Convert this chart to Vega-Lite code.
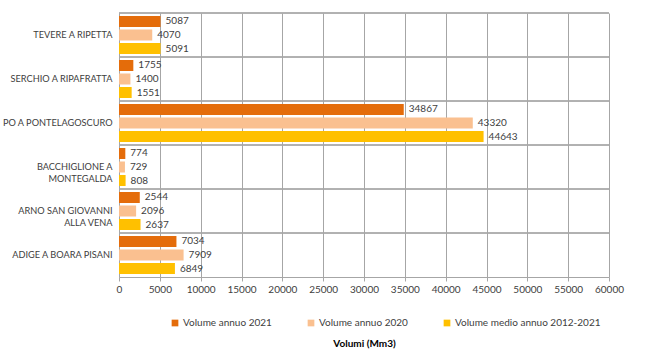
{
  "$schema": "https://vega.github.io/schema/vega-lite/v6.json",
  "width": 490,
  "height": 264,
  "autosize": {"type": "none"},
  "padding": {"left": 119, "top": 13, "right": 41, "bottom": 86},
  "background": "white",
  "config": {
    "font": "Lato",
    "view": {"stroke": null},
    "axis": {"labelColor": "#404040", "labelFontSize": 10, "titleColor": "#000000"}
  },
  "data": {
    "values": [
      {"stazione": "TEVERE A RIPETTA", "serie": "Volume annuo 2021", "volume": 5087},
      {"stazione": "TEVERE A RIPETTA", "serie": "Volume annuo 2020", "volume": 4070},
      {"stazione": "TEVERE A RIPETTA", "serie": "Volume medio annuo 2012-2021", "volume": 5091},
      {"stazione": "SERCHIO A RIPAFRATTA", "serie": "Volume annuo 2021", "volume": 1755},
      {"stazione": "SERCHIO A RIPAFRATTA", "serie": "Volume annuo 2020", "volume": 1400},
      {"stazione": "SERCHIO A RIPAFRATTA", "serie": "Volume medio annuo 2012-2021", "volume": 1551},
      {"stazione": "PO A PONTELAGOSCURO", "serie": "Volume annuo 2021", "volume": 34867},
      {"stazione": "PO A PONTELAGOSCURO", "serie": "Volume annuo 2020", "volume": 43320},
      {"stazione": "PO A PONTELAGOSCURO", "serie": "Volume medio annuo 2012-2021", "volume": 44643},
      {"stazione": "BACCHIGLIONE A|MONTEGALDA", "serie": "Volume annuo 2021", "volume": 774},
      {"stazione": "BACCHIGLIONE A|MONTEGALDA", "serie": "Volume annuo 2020", "volume": 729},
      {"stazione": "BACCHIGLIONE A|MONTEGALDA", "serie": "Volume medio annuo 2012-2021", "volume": 808},
      {"stazione": "ARNO SAN GIOVANNI|ALLA VENA", "serie": "Volume annuo 2021", "volume": 2544},
      {"stazione": "ARNO SAN GIOVANNI|ALLA VENA", "serie": "Volume annuo 2020", "volume": 2096},
      {"stazione": "ARNO SAN GIOVANNI|ALLA VENA", "serie": "Volume medio annuo 2012-2021", "volume": 2637},
      {"stazione": "ADIGE A BOARA PISANI", "serie": "Volume annuo 2021", "volume": 7034},
      {"stazione": "ADIGE A BOARA PISANI", "serie": "Volume annuo 2020", "volume": 7909},
      {"stazione": "ADIGE A BOARA PISANI", "serie": "Volume medio annuo 2012-2021", "volume": 6849}
    ]
  },
  "encoding": {
    "y": {
      "field": "stazione",
      "type": "nominal",
      "sort": null,
      "scale": {"paddingInner": 0, "paddingOuter": 0},
      "axis": {
        "title": null,
        "labelExpr": "split(datum.label, '|')",
        "labelPadding": 7,
        "ticks": false,
        "domainColor": "#A6A6A6",
        "labelFontSize": 9.2,
        "labelLineHeight": 12,
        "labelLimit": 200
      }
    }
  },
  "layer": [
    {
      "mark": {"type": "rule", "color": "#A6A6A6", "strokeWidth": 1},
      "encoding": {
        "y": {"field": "stazione", "type": "nominal", "sort": null, "bandPosition": 0}
      }
    },
    {
      "mark": {"type": "bar"},
      "encoding": {
        "x": {
          "field": "volume",
          "type": "quantitative",
          "scale": {"domain": [0, 60000], "nice": false},
          "axis": {
            "values": [0, 5000, 10000, 15000, 20000, 25000, 30000, 35000, 40000, 45000, 50000, 55000, 60000],
            "format": "d",
            "labelOverlap": false,
            "labelFlush": false,
            "title": "Volumi (Mm3)",
            "titleFontSize": 10,
            "titleFontWeight": "bold",
            "titlePadding": 44,
            "gridColor": "#A6A6A6",
            "domainColor": "#A6A6A6",
            "tickColor": "#A6A6A6",
            "tickSize": 4,
            "labelPadding": 3
          }
        },
        "yOffset": {
          "field": "serie",
          "type": "nominal",
          "scale": {
            "domain": ["Volume annuo 2021", "Volume annuo 2020", "Volume medio annuo 2012-2021"],
            "paddingInner": 0.185,
            "paddingOuter": 0.22
          }
        },
        "color": {
          "field": "serie",
          "type": "nominal",
          "scale": {
            "domain": ["Volume annuo 2021", "Volume annuo 2020", "Volume medio annuo 2012-2021"],
            "range": ["#E46C0A", "#FAC090", "#FFC000"]
          },
          "legend": {
            "title": null,
            "orient": "none",
            "direction": "horizontal",
            "legendX": 51,
            "legendY": 305,
            "symbolType": "square",
            "symbolSize": 45,
            "symbolStrokeWidth": 0,
            "labelFontSize": 10,
            "labelColor": "#404040",
            "columnPadding": 34,
            "labelOffset": 3,
            "padding": 0
          }
        }
      }
    },
    {
      "mark": {"type": "text", "align": "left", "dx": 5, "fontSize": 10, "color": "#404040"},
      "encoding": {
        "x": {"field": "volume", "type": "quantitative"},
        "yOffset": {
          "field": "serie",
          "type": "nominal",
          "scale": {
            "domain": ["Volume annuo 2021", "Volume annuo 2020", "Volume medio annuo 2012-2021"],
            "paddingInner": 0.185,
            "paddingOuter": 0.22
          }
        },
        "text": {"field": "volume", "type": "quantitative", "format": "d"}
      }
    }
  ]
}
